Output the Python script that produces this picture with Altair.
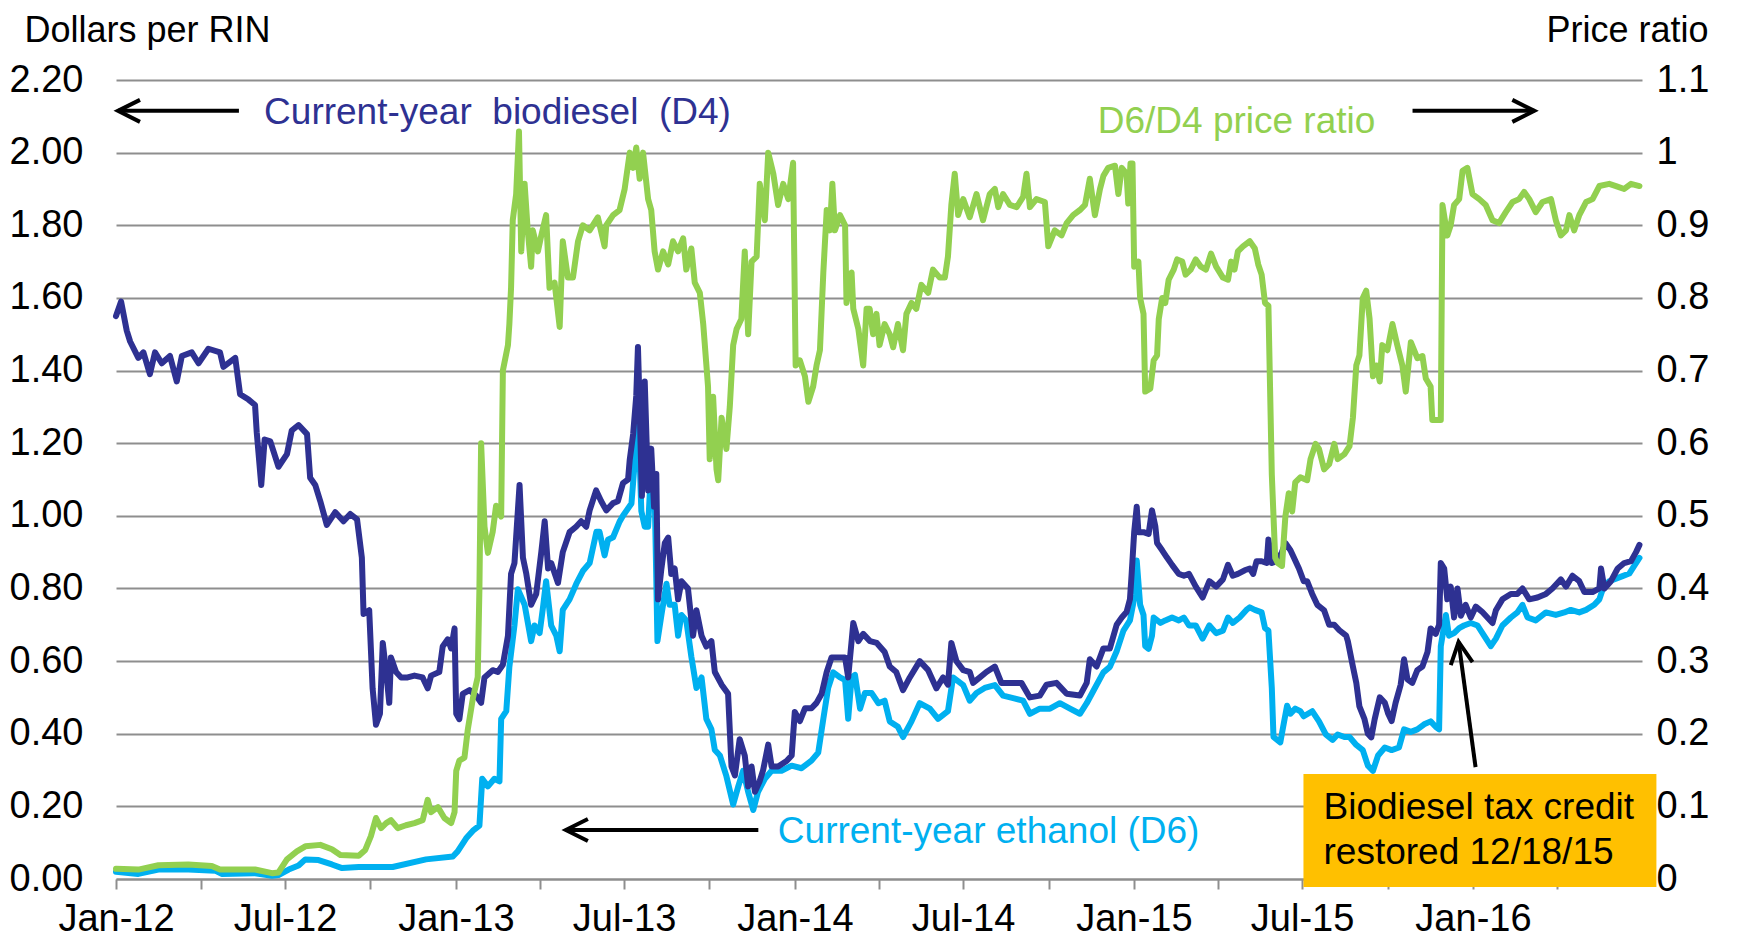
import altair as alt
import pandas as pd

# ---------------- data ----------------
# x values are months elapsed since 1 Jan 2012
d4_months = [0.00, 0.18, 0.38, 0.50, 0.79, 0.97, 1.20, 1.38, 1.62, 1.91, 2.15, 2.33, 2.68, 2.92, 3.27, 3.68, 3.80, 4.22, 4.39, 4.69,
             4.92, 4.98, 5.14, 5.26, 5.46, 5.75, 6.05, 6.22, 6.46, 6.76, 6.87, 7.05, 7.23, 7.46, 7.76, 8.05, 8.29, 8.53, 8.70, 8.76,
             8.96, 9.08, 9.20, 9.34, 9.44, 9.56, 9.67, 9.73, 9.91, 10.09, 10.32, 10.56, 10.85, 11.03, 11.15, 11.44, 11.56, 11.74, 11.86, 11.98,
             12.04, 12.15, 12.27, 12.51, 12.74, 12.92, 13.04, 13.33, 13.51, 13.69, 13.87, 13.98, 14.10, 14.28, 14.40, 14.52, 14.69, 14.87, 15.05, 15.17,
             15.29, 15.40, 15.64, 15.81, 16.05, 16.28, 16.46, 16.64, 16.76, 16.99, 17.17, 17.35, 17.59, 17.76, 17.94, 18.12, 18.18, 18.30, 18.41, 18.47,
             18.53, 18.61, 18.71, 18.83, 18.94, 19.04, 19.12, 19.18, 19.30, 19.42, 19.54, 19.65, 19.77, 19.89, 20.01, 20.24, 20.42, 20.54, 20.72, 20.89,
             21.07, 21.19, 21.43, 21.66, 21.78, 21.90, 22.07, 22.25, 22.37, 22.49, 22.61, 22.78, 22.90, 23.08, 23.20, 23.43, 23.73, 23.91, 24.02, 24.20,
             24.38, 24.61, 24.79, 24.97, 25.15, 25.32, 25.56, 25.80, 25.91, 26.09, 26.27, 26.44, 26.68, 26.92, 27.20, 27.38, 27.61, 27.85, 28.09, 28.44,
             28.74, 29.03, 29.27, 29.44, 29.56, 29.74, 29.98, 30.21, 30.33, 30.57, 30.80, 31.10, 31.33, 31.63, 32.04, 32.34, 32.69, 32.93, 33.28, 33.64,
             34.11, 34.35, 34.46, 34.70, 34.94, 35.17, 35.41, 35.59, 35.76, 35.88, 35.94, 36.03, 36.12, 36.18, 36.36, 36.54, 36.66, 36.78, 36.84, 37.02,
             37.19, 37.37, 37.61, 37.79, 37.97, 38.21, 38.45, 38.69, 38.93, 39.17, 39.35, 39.52, 39.70, 39.94, 40.12, 40.24, 40.36, 40.54, 40.72, 40.78,
             40.90, 41.08, 41.26, 41.38, 41.56, 41.68, 41.86, 42.03, 42.15, 42.33, 42.51, 42.75, 42.93, 43.11, 43.29, 43.53, 43.59, 43.77, 43.89, 44.00,
             44.18, 44.30, 44.42, 44.54, 44.72, 44.90, 45.02, 45.14, 45.28, 45.46, 45.58, 45.70, 45.87, 46.05, 46.23, 46.41, 46.52, 46.70, 46.82, 46.88,
             47.00, 47.11, 47.23, 47.35, 47.47, 47.59, 47.76, 47.94, 48.12, 48.35, 48.53, 48.71, 48.83, 49.06, 49.36, 49.59, 49.77, 50.01, 50.30, 50.60,
             50.83, 51.13, 51.31, 51.54, 51.78, 51.96, 52.25, 52.49, 52.55, 52.67, 52.90, 53.14, 53.37, 53.61, 53.79, 53.91]
d4_values = [1.55, 1.59, 1.51, 1.48, 1.435, 1.45, 1.39, 1.45, 1.42, 1.44, 1.37, 1.44, 1.45, 1.42, 1.46, 1.45, 1.41, 1.435, 1.335, 1.32,
             1.305, 1.23, 1.085, 1.21, 1.205, 1.135, 1.17, 1.235, 1.25, 1.225, 1.105, 1.085, 1.04, 0.975, 1.01, 0.985, 1.005, 0.99, 0.885, 0.73,
             0.74, 0.525, 0.425, 0.455, 0.65, 0.57, 0.485, 0.61, 0.57, 0.555, 0.555, 0.56, 0.555, 0.525, 0.56, 0.57, 0.64, 0.66, 0.635, 0.69,
             0.455, 0.44, 0.51, 0.52, 0.505, 0.485, 0.555, 0.575, 0.57, 0.59, 0.67, 0.84, 0.87, 1.085, 0.885, 0.84, 0.755, 0.785, 0.90, 0.985,
             0.855, 0.87, 0.815, 0.90, 0.955, 0.97, 0.985, 0.97, 1.015, 1.07, 1.04, 1.015, 1.035, 1.04, 1.09, 1.10, 1.155, 1.225, 1.33, 1.465,
             1.30, 1.055, 1.37, 1.07, 1.185, 1.025, 1.115, 0.77, 0.855, 0.925, 0.94, 0.84, 0.855, 0.77, 0.82, 0.80, 0.67, 0.74, 0.67, 0.64,
             0.655, 0.57, 0.535, 0.51, 0.31, 0.285, 0.385, 0.34, 0.255, 0.31, 0.24, 0.27, 0.30, 0.37, 0.31, 0.31, 0.325, 0.34, 0.46, 0.435,
             0.47, 0.47, 0.485, 0.51, 0.57, 0.61, 0.61, 0.61, 0.555, 0.705, 0.655, 0.675, 0.655, 0.65, 0.625, 0.585, 0.57, 0.52, 0.555, 0.60,
             0.575, 0.525, 0.555, 0.535, 0.65, 0.60, 0.575, 0.57, 0.54, 0.555, 0.57, 0.585, 0.54, 0.54, 0.54, 0.50, 0.505, 0.535, 0.54, 0.51,
             0.505, 0.54, 0.605, 0.585, 0.635, 0.635, 0.70, 0.72, 0.735, 0.77, 0.84, 0.955, 1.025, 0.955, 0.955, 0.95, 1.015, 0.97, 0.925, 0.905,
             0.885, 0.865, 0.84, 0.835, 0.84, 0.805, 0.775, 0.82, 0.805, 0.825, 0.865, 0.835, 0.84, 0.85, 0.855, 0.84, 0.875, 0.875, 0.87, 0.935,
             0.87, 0.875, 0.90, 0.925, 0.905, 0.885, 0.855, 0.82, 0.82, 0.785, 0.755, 0.74, 0.70, 0.70, 0.685, 0.67, 0.655, 0.585, 0.54, 0.475,
             0.44, 0.40, 0.39, 0.44, 0.50, 0.485, 0.455, 0.435, 0.485, 0.535, 0.605, 0.55, 0.54, 0.575, 0.585, 0.625, 0.69, 0.675, 0.70, 0.87,
             0.855, 0.77, 0.805, 0.72, 0.80, 0.725, 0.755, 0.72, 0.75, 0.735, 0.72, 0.705, 0.74, 0.77, 0.785, 0.785, 0.80, 0.77, 0.775, 0.785,
             0.80, 0.825, 0.805, 0.835, 0.82, 0.79, 0.79, 0.80, 0.855, 0.80, 0.82, 0.855, 0.87, 0.875, 0.90, 0.92]

d6_months = [0.00, 0.79, 1.50, 2.56, 3.51, 3.74, 4.92, 5.52, 5.75, 6.11, 6.46, 6.70, 7.17, 7.64, 8.00, 8.59, 9.79, 10.97, 11.92, 12.09,
             12.39, 12.63, 12.86, 12.96, 13.16, 13.39, 13.57, 13.63, 13.81, 13.92, 14.10, 14.22, 14.46, 14.69, 14.81, 14.99, 15.11, 15.22, 15.40, 15.58,
             15.70, 15.81, 16.05, 16.29, 16.52, 16.76, 17.00, 17.11, 17.29, 17.41, 17.59, 17.82, 17.94, 18.24, 18.35, 18.47, 18.59, 18.71, 18.83, 18.94,
             19.06, 19.16, 19.30, 19.48, 19.59, 19.77, 19.89, 20.01, 20.18, 20.36, 20.54, 20.72, 20.89, 21.07, 21.19, 21.37, 21.60, 21.84, 22.02, 22.19,
             22.37, 22.55, 22.72, 22.96, 23.20, 23.55, 23.91, 24.26, 24.61, 24.85, 25.03, 25.20, 25.38, 25.62, 25.80, 25.91, 26.03, 26.15, 26.33, 26.50,
             26.74, 26.98, 27.20, 27.38, 27.67, 27.85, 28.15, 28.44, 28.80, 29.09, 29.44, 29.62, 29.98, 30.21, 30.45, 30.74, 31.10, 31.39, 31.75, 32.10,
             32.34, 32.69, 33.05, 33.40, 33.76, 34.11, 34.35, 34.64, 34.94, 35.17, 35.41, 35.65, 35.88, 36.06, 36.12, 36.24, 36.36, 36.42, 36.54, 36.66,
             36.72, 36.96, 37.13, 37.37, 37.61, 37.79, 37.97, 38.21, 38.45, 38.69, 38.93, 39.17, 39.35, 39.52, 39.76, 40.00, 40.12, 40.30, 40.54, 40.66,
             40.78, 40.90, 40.96, 41.20, 41.32, 41.44, 41.56, 41.73, 41.91, 42.03, 42.33, 42.57, 42.81, 43.05, 43.23, 43.47, 43.65, 43.89, 44.12, 44.30,
             44.48, 44.66, 44.90, 45.14, 45.40, 45.58, 45.82, 46.05, 46.29, 46.52, 46.70, 46.82, 46.88, 46.94, 47.06, 47.17, 47.35, 47.53, 47.70, 47.94,
             48.18, 48.41, 48.65, 48.83, 49.06, 49.36, 49.59, 49.77, 49.95, 50.24, 50.60, 50.95, 51.25, 51.48, 51.78, 52.02, 52.31, 52.49, 52.61, 52.84,
             53.08, 53.31, 53.55, 53.73, 53.91]
d6_values = [0.020, 0.014, 0.026, 0.026, 0.023, 0.014, 0.016, 0.009, 0.011, 0.026, 0.037, 0.054, 0.052, 0.040, 0.030, 0.033, 0.033, 0.054, 0.062, 0.076,
             0.112, 0.133, 0.147, 0.276, 0.255, 0.276, 0.269, 0.441, 0.462, 0.584, 0.698, 0.798, 0.755, 0.655, 0.698, 0.677, 0.748, 0.820, 0.698, 0.670,
             0.627, 0.741, 0.770, 0.813, 0.848, 0.870, 0.956, 0.956, 0.891, 0.934, 0.941, 0.984, 1.000, 1.034, 1.142, 1.299, 1.013, 0.970, 0.970, 1.142,
             1.070, 0.655, 0.727, 0.813, 0.755, 0.755, 0.670, 0.727, 0.712, 0.612, 0.526, 0.555, 0.441, 0.412, 0.355, 0.340, 0.283, 0.205, 0.255, 0.298,
             0.240, 0.190, 0.240, 0.276, 0.298, 0.298, 0.312, 0.305, 0.326, 0.348, 0.441, 0.526, 0.569, 0.555, 0.548, 0.441, 0.555, 0.562, 0.469, 0.512,
             0.512, 0.484, 0.491, 0.434, 0.419, 0.391, 0.434, 0.484, 0.469, 0.441, 0.462, 0.555, 0.534, 0.491, 0.512, 0.526, 0.534, 0.505, 0.498, 0.491,
             0.455, 0.469, 0.469, 0.484, 0.469, 0.455, 0.484, 0.526, 0.569, 0.584, 0.627, 0.684, 0.712, 0.784, 0.877, 0.755, 0.727, 0.641, 0.634, 0.670,
             0.720, 0.705, 0.712, 0.720, 0.712, 0.720, 0.698, 0.698, 0.662, 0.698, 0.677, 0.684, 0.720, 0.705, 0.720, 0.741, 0.748, 0.741, 0.734, 0.691,
             0.684, 0.526, 0.391, 0.376, 0.427, 0.477, 0.455, 0.469, 0.462, 0.448, 0.462, 0.434, 0.398, 0.383, 0.398, 0.391, 0.391, 0.369, 0.355, 0.312,
             0.298, 0.340, 0.362, 0.355, 0.362, 0.412, 0.405, 0.412, 0.426, 0.434, 0.419, 0.412, 0.641, 0.670, 0.727, 0.670, 0.677, 0.691, 0.698, 0.705,
             0.698, 0.670, 0.641, 0.662, 0.698, 0.720, 0.734, 0.755, 0.720, 0.712, 0.734, 0.727, 0.734, 0.741, 0.734, 0.741, 0.755, 0.770, 0.798, 0.820,
             0.827, 0.834, 0.841, 0.863, 0.884]

ratio_months = [0.00, 0.79, 1.50, 2.56, 3.39, 3.68, 4.92, 5.52, 5.75, 6.05, 6.40, 6.70, 7.23, 7.64, 7.94, 8.59, 8.82, 9.02, 9.20, 9.38,
                9.56, 9.73, 9.97, 10.26, 10.56, 10.85, 11.03, 11.15, 11.39, 11.62, 11.86, 11.98, 12.04, 12.15, 12.33, 12.45, 12.63, 12.80, 12.86, 12.92,
                13.04, 13.16, 13.33, 13.45, 13.63, 13.69, 13.87, 13.92, 13.98, 14.04, 14.16, 14.26, 14.34, 14.46, 14.57, 14.69, 14.75, 14.93, 15.05, 15.22,
                15.34, 15.52, 15.70, 15.81, 15.99, 16.17, 16.35, 16.52, 16.76, 17.05, 17.29, 17.35, 17.59, 17.82, 18.00, 18.18, 18.30, 18.41, 18.53, 18.65,
                18.83, 18.94, 19.06, 19.18, 19.36, 19.54, 19.71, 19.89, 20.07, 20.18, 20.36, 20.48, 20.66, 20.78, 20.95, 21.01, 21.13, 21.25, 21.31, 21.43,
                21.60, 21.72, 21.84, 21.96, 22.13, 22.25, 22.37, 22.49, 22.67, 22.78, 22.96, 23.08, 23.26, 23.43, 23.61, 23.79, 23.96, 24.05, 24.20, 24.38,
                24.50, 24.67, 24.79, 24.91, 25.03, 25.15, 25.26, 25.35, 25.44, 25.62, 25.80, 25.85, 26.03, 26.09, 26.27, 26.44, 26.56, 26.67, 26.79, 26.91,
                27.02, 27.20, 27.38, 27.50, 27.67, 27.85, 27.97, 28.15, 28.32, 28.50, 28.74, 28.91, 29.15, 29.33, 29.44, 29.56, 29.68, 29.80, 29.98, 30.21,
                30.45, 30.68, 30.92, 31.10, 31.22, 31.39, 31.63, 31.87, 32.10, 32.22, 32.34, 32.57, 32.87, 32.99, 33.22, 33.46, 33.64, 33.87, 34.11, 34.29,
                34.46, 34.64, 34.82, 34.94, 35.11, 35.35, 35.47, 35.59, 35.76, 35.82, 35.90, 35.97, 36.03, 36.18, 36.24, 36.36, 36.42, 36.60, 36.72, 36.84,
                36.90, 37.02, 37.13, 37.25, 37.43, 37.55, 37.73, 37.85, 38.03, 38.21, 38.39, 38.57, 38.75, 38.93, 39.17, 39.35, 39.46, 39.58, 39.70, 39.88,
                40.12, 40.30, 40.42, 40.54, 40.66, 40.78, 40.90, 41.02, 41.11, 41.26, 41.38, 41.50, 41.62, 41.73, 41.91, 42.15, 42.27, 42.45, 42.57, 42.75,
                42.93, 43.11, 43.23, 43.47, 43.65, 43.77, 43.89, 44.00, 44.12, 44.24, 44.36, 44.48, 44.60, 44.72, 44.81, 44.99, 45.17, 45.34, 45.52, 45.64,
                45.82, 46.05, 46.23, 46.35, 46.52, 46.58, 46.76, 46.88, 46.94, 47.11, 47.23, 47.35, 47.53, 47.65, 47.82, 48.00, 48.24, 48.47, 48.71, 48.94,
                49.18, 49.42, 49.65, 49.83, 50.01, 50.24, 50.48, 50.78, 50.95, 51.13, 51.31, 51.43, 51.60, 51.78, 52.02, 52.25, 52.49, 52.84, 53.08, 53.37,
                53.61, 53.91]
ratio_values = [0.014, 0.013, 0.019, 0.020, 0.018, 0.013, 0.013, 0.008, 0.009, 0.027, 0.038, 0.045, 0.047, 0.041, 0.033, 0.032, 0.040, 0.059, 0.084, 0.070,
                0.077, 0.081, 0.070, 0.074, 0.077, 0.081, 0.109, 0.092, 0.099, 0.084, 0.077, 0.092, 0.149, 0.163, 0.167, 0.206, 0.249, 0.278, 0.399, 0.600,
                0.485, 0.449, 0.478, 0.514, 0.499, 0.700, 0.735, 0.764, 0.814, 0.907, 0.943, 1.029, 0.864, 0.957, 0.893, 0.843, 0.893, 0.864, 0.886, 0.914,
                0.814, 0.821, 0.760, 0.878, 0.828, 0.828, 0.878, 0.900, 0.893, 0.911, 0.871, 0.900, 0.914, 0.921, 0.950, 1.000, 0.979, 1.007, 0.964, 1.000,
                0.936, 0.921, 0.864, 0.839, 0.864, 0.846, 0.878, 0.864, 0.882, 0.839, 0.868, 0.821, 0.807, 0.764, 0.678, 0.578, 0.664, 0.564, 0.549, 0.635,
                0.592, 0.650, 0.735, 0.757, 0.771, 0.864, 0.750, 0.850, 0.857, 0.957, 0.907, 1.000, 0.971, 0.928, 0.957, 0.936, 0.986, 0.707, 0.714, 0.692,
                0.657, 0.678, 0.707, 0.728, 0.835, 0.921, 0.893, 0.957, 0.893, 0.914, 0.900, 0.793, 0.835, 0.785, 0.757, 0.707, 0.785, 0.785, 0.750, 0.778,
                0.735, 0.764, 0.750, 0.732, 0.764, 0.728, 0.778, 0.793, 0.785, 0.818, 0.807, 0.839, 0.828, 0.828, 0.857, 0.928, 0.971, 0.914, 0.936, 0.911,
                0.943, 0.907, 0.943, 0.950, 0.925, 0.943, 0.928, 0.925, 0.939, 0.971, 0.925, 0.936, 0.932, 0.871, 0.893, 0.886, 0.903, 0.914, 0.921, 0.928,
                0.964, 0.914, 0.950, 0.968, 0.979, 0.982, 0.943, 0.979, 0.971, 0.930, 0.985, 0.985, 0.843, 0.850, 0.800, 0.778, 0.671, 0.675, 0.714, 0.721,
                0.771, 0.800, 0.793, 0.825, 0.839, 0.853, 0.850, 0.832, 0.839, 0.853, 0.843, 0.839, 0.861, 0.843, 0.828, 0.825, 0.850, 0.839, 0.864, 0.871,
                0.878, 0.868, 0.846, 0.832, 0.793, 0.789, 0.557, 0.442, 0.435, 0.431, 0.499, 0.531, 0.506, 0.546, 0.553, 0.549, 0.578, 0.599, 0.592, 0.564,
                0.571, 0.599, 0.578, 0.585, 0.596, 0.635, 0.707, 0.721, 0.800, 0.810, 0.771, 0.692, 0.707, 0.685, 0.735, 0.728, 0.764, 0.735, 0.707, 0.671,
                0.739, 0.717, 0.720, 0.689, 0.678, 0.632, 0.632, 0.632, 0.928, 0.886, 0.900, 0.928, 0.936, 0.975, 0.979, 0.943, 0.936, 0.928, 0.907, 0.903,
                0.918, 0.932, 0.936, 0.946, 0.936, 0.918, 0.932, 0.936, 0.907, 0.886, 0.893, 0.914, 0.893, 0.914, 0.932, 0.936, 0.954, 0.957, 0.954, 0.950,
                0.957, 0.954]

left_ticks = [0.0, 0.2, 0.4, 0.6, 0.8, 1.0, 1.2, 1.4, 1.6, 1.8, 2.0, 2.2]
right_ticks = [0.0, 0.1, 0.2, 0.3, 0.4, 0.5, 0.6, 0.7, 0.8, 0.9, 1.0, 1.1]

# annotation texts (anchor: months since Jan 2012, dollars per RIN)
label_texts = ["Current-year\u00a0 biodiesel\u00a0 (D4)", "D6/D4 price ratio", "Current-year ethanol (D6)"]
label_months = [5.24, 34.74, 23.42]
label_values = [2.079, 2.055, 0.099]
label_colors = ["#2E3192", "#92D050", "#00B0F0"]

box_lines = ["Biodiesel tax credit", "restored 12/18/15"]
box_line_months = [42.73, 42.73]
box_line_values = [0.165, 0.041]
box_months = [42.02, 54.51]
box_values = [-0.022, 0.289]

# arrows: tail -> tip
arrow_tail_m = [4.35, 45.88, 22.73, 48.11]
arrow_tip_m = [0.07, 50.19, 15.92, 47.51]
arrow_tail_v = [2.115, 2.115, 0.135, 0.308]
arrow_tip_v = [2.115, 2.115, 0.135, 0.653]
arrow_shapes = ["M2,-1L0,0L2,1", "M-2,-1L0,0L-2,1", "M2,-1L0,0L2,1", "M-1,2L0,0L1,2"]
arrow_angles = [0, 0, 0, 352]

# ---------------- build ----------------
START = pd.Timestamp("2012-01-01")
END = pd.Timestamp("2016-07-01")
DPM = (END - START).days / 54.0


def dates(months):
    return [START + pd.Timedelta(days=float(m) * DPM) for m in months]


d4 = pd.DataFrame({"t": dates(d4_months), "v": d4_values})
d6 = pd.DataFrame({"t": dates(d6_months), "v": d6_values})
ratio = pd.DataFrame({"t": dates(ratio_months), "v": ratio_values})
labels = pd.DataFrame({"t": dates(label_months), "v": label_values, "txt": label_texts, "c": label_colors})
box_txt = pd.DataFrame({"t": dates(box_line_months), "v": box_line_values, "txt": box_lines})
box = pd.DataFrame({"t": dates(box_months[:1]), "t2": dates(box_months[1:]), "v": box_values[:1], "v2": box_values[1:]})
arrows = pd.DataFrame({"t": dates(arrow_tail_m), "t2": dates(arrow_tip_m), "v": arrow_tail_v, "v2": arrow_tip_v})
heads = pd.DataFrame({"t": dates(arrow_tip_m), "v": arrow_tip_v, "shape": arrow_shapes, "angle": arrow_angles})

FONT = "Liberation Sans"
GRID = "#8e8e8e"
FS_TICK = 38
FS = 37
FS_TITLE = 36

quarter_ticks = [alt.DateTime(year=y, month=mo, date=1)
                 for y in range(2012, 2017) for mo in (1, 4, 7, 10)
                 if not (y == 2016 and mo > 4)]

x_scale = alt.Scale(domain=[alt.DateTime(year=2012, month=1, date=1),
                            alt.DateTime(year=2016, month=7, date=1)], nice=False)
x_axis = alt.Axis(values=quarter_ticks,
                  labelExpr="month(datum.value) % 6 == 0 ? timeFormat(datum.value, '%b-%y') : ''",
                  title=None, grid=False, domainColor=GRID, domainWidth=2,
                  tickColor=GRID, tickWidth=2, tickSize=10,
                  labelFontSize=FS_TICK, labelColor="black", labelPadding=41,
                  labelBaseline="alphabetic", labelFlush=False, labelOverlap=False, labelBound=False)


def X():
    return alt.X("t:T", scale=x_scale, axis=x_axis)


left_axis = alt.Axis(values=left_ticks, format=".2f", orient="left", grid=True, gridColor=GRID, gridWidth=2,
                     domain=False, ticks=False, labelFontSize=FS_TICK, labelColor="black", labelPadding=33,
                     labelFlush=False, title="Dollars per RIN", titleAngle=0, titleAlign="left",
                     titleBaseline="alphabetic", titleX=-92, titleY=-39, titleFontSize=FS_TITLE,
                     titleFontWeight="normal", titleColor="black")
right_axis = alt.Axis(values=right_ticks, format=".1~f", orient="right", grid=False,
                      domain=False, ticks=False, labelFontSize=FS_TICK, labelColor="black", labelPadding=14,
                      labelFlush=False, title="Price ratio", titleAngle=0, titleAlign="right",
                      titleBaseline="alphabetic", titleX=66, titleY=-39, titleFontSize=FS_TITLE,
                      titleFontWeight="normal", titleColor="black")

dollar_scale = alt.Scale(domain=[0, 2.2], nice=False, zero=False)
ratio_scale = alt.Scale(domain=[0, 1.1], nice=False, zero=False)

line_style = dict(strokeWidth=6, strokeJoin="round", strokeCap="round")

d6_line = alt.Chart(d6).mark_line(color="#00B0F0", **line_style).encode(
    x=X(), y=alt.Y("v:Q", scale=dollar_scale, axis=left_axis))
d4_line = alt.Chart(d4).mark_line(color="#2E3192", **line_style).encode(
    x=X(), y=alt.Y("v:Q", scale=dollar_scale, axis=None))
ratio_line = alt.Chart(ratio).mark_line(color="#92D050", **line_style).encode(
    x=X(), y=alt.Y("v:Q", scale=ratio_scale, axis=right_axis))

box_rect = alt.Chart(box).mark_rect(color="#FFC000").encode(
    x=X(), x2="t2:T", y=alt.Y("v:Q", scale=dollar_scale, axis=None), y2="v2:Q")
box_text = alt.Chart(box_txt).mark_text(align="left", baseline="alphabetic", fontSize=FS, font=FONT,
                                        color="black").encode(
    x=X(), y=alt.Y("v:Q", scale=dollar_scale, axis=None), text="txt:N")
label_text = alt.Chart(labels).mark_text(align="left", baseline="alphabetic", fontSize=FS, font=FONT).encode(
    x=X(), y=alt.Y("v:Q", scale=dollar_scale, axis=None), text="txt:N",
    color=alt.Color("c:N", scale=None))
arrow_rules = alt.Chart(arrows).mark_rule(color="black", strokeWidth=4).encode(
    x=X(), x2="t2:T", y=alt.Y("v:Q", scale=dollar_scale, axis=None), y2="v2:Q")
arrow_heads = alt.Chart(heads).mark_point(filled=False, size=484, strokeWidth=4, color="black",
                                          opacity=1, strokeJoin="miter").encode(
    x=X(), y=alt.Y("v:Q", scale=dollar_scale, axis=None),
    shape=alt.Shape("shape:N", scale=None), angle=alt.Angle("angle:Q", scale=None))

chart = alt.layer(
    d6_line, d4_line, ratio_line, box_rect, box_text, label_text, arrow_rules, arrow_heads
).resolve_scale(y="independent").properties(
    width=1526, height=799,
    padding={"left": 108, "top": 72, "right": 92, "bottom": 60},
    autosize=alt.AutoSizeParams(type="none"),
).configure(font=FONT).configure_view(stroke=None)

chart.save("out.html", embed_options={"renderer": "svg", "actions": False})
